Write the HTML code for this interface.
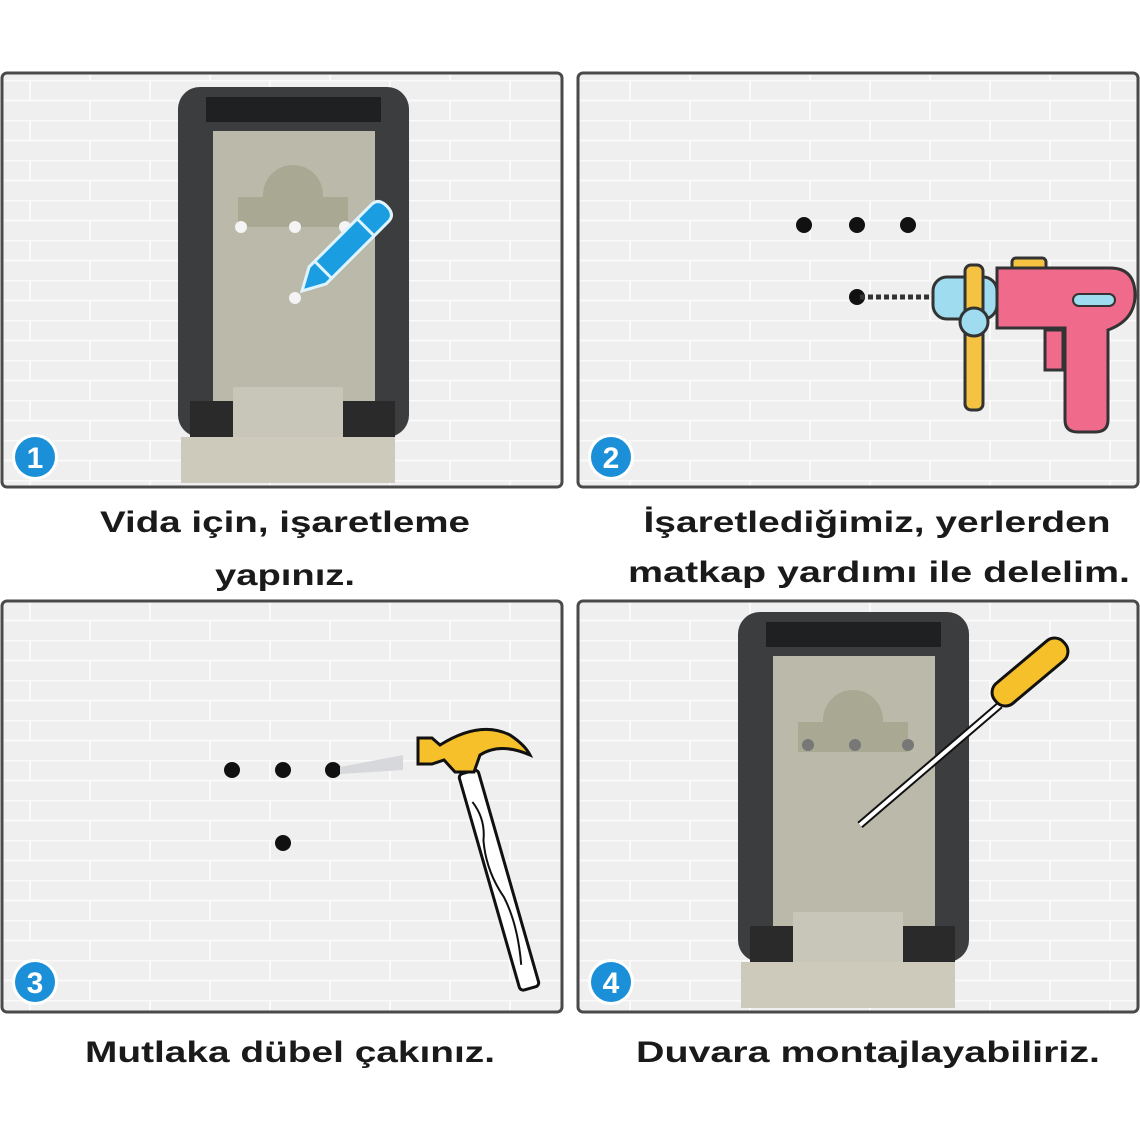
<!DOCTYPE html>
<html><head><meta charset="utf-8"><style>
html,body{margin:0;padding:0;background:#fff;width:1140px;height:1140px;overflow:hidden}
svg{display:block}
text{font-family:"Liberation Sans",sans-serif;font-weight:bold;fill:#1a1a1a}
</style></head><body>
<svg width="1140" height="1140" viewBox="0 0 1140 1140" xmlns="http://www.w3.org/2000/svg">
<defs>
<pattern id="brick" width="120" height="40" patternUnits="userSpaceOnUse">
<rect width="120" height="40" fill="#efefef"/>
<path d="M0 0.5H120M0 20.5H120M30 0V20M90 20V40" stroke="#fafafa" stroke-width="2"/>
</pattern>
<g id="box">
<rect x="0" y="0" width="231" height="350" rx="22" fill="#3c3d3f"/>
<rect x="28" y="10" width="175" height="25" fill="#1f2021"/>
<rect x="35" y="44" width="162" height="270" fill="#bbb9a9"/>
<path d="M60 110 h110 v30 h-110z" fill="#a9a892"/>
<circle cx="115" cy="108" r="30" fill="#a9a892"/>
<rect x="12" y="314" width="205" height="38" fill="#2a2a2a"/>
<rect x="55" y="300" width="110" height="55" fill="#c8c6b8"/>
<rect x="3" y="350" width="214" height="46" fill="#cdcabb"/>
</g>
<g id="badge"><circle r="23" fill="#fff"/><circle r="20" fill="#1b8fd8"/></g>
</defs>
<rect width="1140" height="1140" fill="#fff"/>
<rect x="2" y="73" width="560" height="414" rx="5" fill="url(#brick)" stroke="#4a4a4a" stroke-width="3"/>
<rect x="578" y="73" width="560" height="414" rx="5" fill="url(#brick)" stroke="#4a4a4a" stroke-width="3"/>
<rect x="2" y="601" width="560" height="411" rx="5" fill="url(#brick)" stroke="#4a4a4a" stroke-width="3"/>
<rect x="578" y="601" width="560" height="411" rx="5" fill="url(#brick)" stroke="#4a4a4a" stroke-width="3"/>

<!-- panel 1 -->
<use href="#box" x="178" y="87"/>
<circle cx="241" cy="227" r="6" fill="#f4f4f4"/><circle cx="295" cy="227" r="6" fill="#f4f4f4"/><circle cx="345" cy="227" r="6" fill="#f4f4f4"/>
<circle cx="295" cy="298" r="6" fill="#f4f4f4"/>
<g transform="translate(302,291) rotate(-45)">
<path d="M0 0 L22 -12 L110 -12 Q120 -12 120 0 Q120 12 110 12 L22 12 Z" fill="#1b9de2" stroke="#dff4ff" stroke-width="3"/>
<path d="M30 -12V12M90 -12V12" stroke="#dff4ff" stroke-width="3"/>
</g>
<use href="#badge" x="35" y="457"/><text x="35" y="468" text-anchor="middle" style="font-size:30px;fill:#fff">1</text>

<!-- panel 2 -->
<circle cx="804" cy="225" r="8" fill="#111"/><circle cx="857" cy="225" r="8" fill="#111"/><circle cx="908" cy="225" r="8" fill="#111"/>
<circle cx="857" cy="297" r="8" fill="#111"/>
<line x1="860" y1="297" x2="935" y2="297" stroke="#333" stroke-width="5" stroke-dasharray="5 3"/>
<rect x="1012" y="258" width="34" height="14" rx="4" fill="#f5c242" stroke="#333" stroke-width="3"/>
<path d="M997 268 H1110 Q1135 268 1135 295 Q1135 320 1108 330 V420 Q1108 432 1095 432 H1078 Q1065 432 1065 420 V328 H997Z" fill="#f06a8c" stroke="#333" stroke-width="3"/>
<rect x="1045" y="330" width="18" height="40" fill="#f06a8c" stroke="#333" stroke-width="3"/>
<rect x="1073" y="294" width="42" height="12" rx="6" fill="#9fdcf0" stroke="#333" stroke-width="2"/>
<rect x="933" y="277" width="64" height="42" rx="14" fill="#9fdcf0" stroke="#333" stroke-width="3"/>
<rect x="965" y="265" width="18" height="145" rx="6" fill="#f5c242" stroke="#333" stroke-width="3"/>
<circle cx="974" cy="322" r="14" fill="#9fdcf0" stroke="#333" stroke-width="3"/>
<use href="#badge" x="611" y="457"/><text x="611" y="468" text-anchor="middle" style="font-size:30px;fill:#fff">2</text>

<!-- panel 3 -->
<circle cx="232" cy="770" r="8" fill="#111"/><circle cx="283" cy="770" r="8" fill="#111"/><circle cx="333" cy="770" r="8" fill="#111"/>
<circle cx="283" cy="843" r="8" fill="#111"/>
<path d="M340 767 L403 755 V770 L340 774Z" fill="#d6d8dc"/>
<g transform="translate(468,772) rotate(-16)">
<rect x="-10" y="0" width="20" height="225" rx="4" fill="#fff" stroke="#111" stroke-width="3"/>
<path d="M-4 30 q8 20 0 40 q-6 30 4 60 q6 30 -2 70" fill="none" stroke="#111" stroke-width="2"/>
</g>
<path d="M418 738 L432 738 L440 745 Q480 720 510 735 Q525 745 530 755 Q500 742 480 755 L474 772 L455 772 L444 760 L432 764 L418 764 Z" fill="#f5c02a" stroke="#111" stroke-width="3"/>
<use href="#badge" x="35" y="982"/><text x="35" y="993" text-anchor="middle" style="font-size:30px;fill:#fff">3</text>

<!-- panel 4 -->
<use href="#box" x="738" y="612"/>
<circle cx="808" cy="745" r="6" fill="#777"/><circle cx="855" cy="745" r="6" fill="#777"/><circle cx="908" cy="745" r="6" fill="#777"/>
<line x1="860" y1="825" x2="1000" y2="705" stroke="#111" stroke-width="8"/>
<line x1="860" y1="825" x2="1000" y2="705" stroke="#fff" stroke-width="4"/>
<g transform="translate(1030,672) rotate(-40)">
<rect x="-45" y="-13" width="90" height="26" rx="12" fill="#f5c02a" stroke="#111" stroke-width="3"/>
</g>
<use href="#badge" x="611" y="982"/><text x="611" y="993" text-anchor="middle" style="font-size:30px;fill:#fff">4</text>

<!-- captions -->
<text x="285" y="532" text-anchor="middle" textLength="370" lengthAdjust="spacingAndGlyphs" style="font-size:30px">Vida için, işaretleme</text>
<text x="285" y="585" text-anchor="middle" textLength="140" lengthAdjust="spacingAndGlyphs" style="font-size:30px">yapınız.</text>
<text x="877" y="532" text-anchor="middle" textLength="467" lengthAdjust="spacingAndGlyphs" style="font-size:30px">İşaretlediğimiz, yerlerden</text>
<text x="879" y="582" text-anchor="middle" textLength="502" lengthAdjust="spacingAndGlyphs" style="font-size:30px">matkap yardımı ile delelim.</text>
<text x="290" y="1062" text-anchor="middle" textLength="410" lengthAdjust="spacingAndGlyphs" style="font-size:30px">Mutlaka dübel çakınız.</text>
<text x="868" y="1062" text-anchor="middle" textLength="464" lengthAdjust="spacingAndGlyphs" style="font-size:30px">Duvara montajlayabiliriz.</text>
</svg>
</body></html>
